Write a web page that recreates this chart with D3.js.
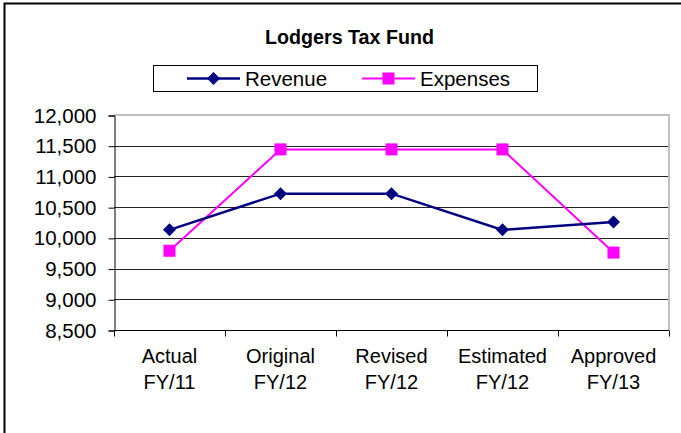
<!DOCTYPE html>
<html>
<head>
<meta charset="utf-8">
<script src="https://cdn.jsdelivr.net/npm/d3@7"></script>
<style>
  body { margin: 0; background: #fff; }
  svg { display: block; font-family: "Liberation Sans", Arial, sans-serif; }
</style>
</head>
<body>
<script>
// chart data
var categories = [['Actual', 'FY/11'], ['Original', 'FY/12'], ['Revised', 'FY/12'], ['Estimated', 'FY/12'], ['Approved', 'FY/13']];
var revenue = [10130, 10720, 10720, 10130, 10260];
var expenses = [9790, 11440, 11440, 11440, 9760];
var yTicks = [8500, 9000, 9500, 10000, 10500, 11000, 11500, 12000];

var W = 681, H = 433;
var plotLeft = 114, plotRight = 669, plotTop = 115, plotBottom = 330;

var svg = d3.select('body').append('svg')
  .attr('width', W)
  .attr('height', H);

svg.append('rect')
  .attr('width', W).attr('height', H)
  .attr('fill', 'white');

// outer frame
svg.append('rect')
  .attr('x', 4.5).attr('y', 3.5)
  .attr('width', W + 10).attr('height', H + 10)
  .attr('fill', 'none')
  .attr('stroke', '#000')
  .attr('stroke-width', 2);

var x = d3.scaleBand()
  .domain(d3.range(categories.length))
  .range([plotLeft, plotRight]);

var y = d3.scaleLinear()
  .domain([8500, 12000])
  .range([plotBottom, plotTop]);

// gridlines
svg.selectAll('line.grid')
  .data(yTicks.slice(1, -1))
  .enter().append('line')
  .attr('class', 'grid')
  .attr('x1', plotLeft).attr('x2', plotRight)
  .attr('y1', function(d) { return Math.round(y(d)) + 0.5; })
  .attr('y2', function(d) { return Math.round(y(d)) + 0.5; })
  .attr('stroke', '#222')
  .attr('stroke-width', 1);

// plot area border (top and right grey)
svg.append('path')
  .attr('d', 'M' + plotLeft + ',' + plotTop + 'H' + plotRight + 'V' + plotBottom)
  .attr('fill', 'none')
  .attr('stroke', '#c0c0c0')
  .attr('stroke-width', 2);

// y axis
var yAxis = d3.axisLeft(y)
  .tickValues(yTicks)
  .tickSize(6)
  .tickPadding(12)
  .tickFormat(d3.format(','));

var gy = svg.append('g')
  .attr('transform', 'translate(' + (plotLeft + 0.5) + ',0.5)')
  .call(yAxis);
gy.select('.domain').attr('stroke', '#000');
gy.selectAll('.tick line').attr('stroke', '#000');
gy.selectAll('.tick text')
  .attr('font-size', 20.5)
  .attr('font-family', '"Liberation Sans", Arial, sans-serif')
  .attr('fill', '#000');

// x axis
var gx = svg.append('g')
  .attr('transform', 'translate(0,' + (plotBottom + 0.5) + ')');
gx.append('line')
  .attr('x1', plotLeft).attr('x2', plotRight)
  .attr('stroke', '#000');
gx.selectAll('line.tick')
  .data(d3.range(categories.length + 1))
  .enter().append('line')
  .attr('class', 'tick')
  .attr('x1', function(i) { return Math.round(plotLeft + i * x.step()) + 0.5; })
  .attr('x2', function(i) { return Math.round(plotLeft + i * x.step()) + 0.5; })
  .attr('y1', 0).attr('y2', 6)
  .attr('stroke', '#000');

var labels = gx.selectAll('text')
  .data(categories)
  .enter().append('text')
  .attr('text-anchor', 'middle')
  .attr('font-size', 20)
  .attr('fill', '#000')
  .attr('x', function(d, i) { return x(i) + x.bandwidth() / 2; });
labels.append('tspan')
  .attr('x', function(d, i) { return x(i) + x.bandwidth() / 2; })
  .attr('y', 32)
  .text(function(d) { return d[0]; });
labels.append('tspan')
  .attr('x', function(d, i) { return x(i) + x.bandwidth() / 2; })
  .attr('y', 58)
  .text(function(d) { return d[1]; });

var cx = function(d, i) { return x(i) + x.bandwidth() / 2; };
var line = d3.line()
  .x(cx)
  .y(function(d) { return y(d); });

// expenses series
svg.append('path')
  .datum(expenses)
  .attr('d', line)
  .attr('fill', 'none')
  .attr('stroke', '#ff00ff')
  .attr('stroke-width', 2);

svg.selectAll('rect.exp')
  .data(expenses)
  .enter().append('rect')
  .attr('class', 'exp')
  .attr('x', function(d, i) { return cx(d, i) - 6; })
  .attr('y', function(d) { return y(d) - 6; })
  .attr('width', 12).attr('height', 12)
  .attr('fill', '#ff00ff');

// revenue series
svg.append('path')
  .datum(revenue)
  .attr('d', line)
  .attr('fill', 'none')
  .attr('stroke', '#000080')
  .attr('stroke-width', 2.5);

var diamond = 'M0,-6.5L6.5,0L0,6.5L-6.5,0Z';
svg.selectAll('path.rev')
  .data(revenue)
  .enter().append('path')
  .attr('class', 'rev')
  .attr('d', diamond)
  .attr('transform', function(d, i) { return 'translate(' + cx(d, i) + ',' + y(d) + ')'; })
  .attr('fill', '#000080');

// title (narrow look)
svg.append('text')
  .attr('x', 265).attr('y', 44)
  .attr('font-weight', 'bold')
  .attr('font-size', 21)
  .attr('textLength', 169)
  .attr('lengthAdjust', 'spacingAndGlyphs')
  .text('Lodgers Tax Fund');

// legend
var legend = svg.append('g');
legend.append('rect')
  .attr('x', 153.5).attr('y', 65.5)
  .attr('width', 384).attr('height', 26)
  .attr('fill', 'white')
  .attr('stroke', '#000');

var legendItems = [
  {name: 'Revenue', color: '#000080', shape: 'diamond', x: 187},
  {name: 'Expenses', color: '#ff00ff', shape: 'square', x: 362}
];

legendItems.forEach(function(it) {
  legend.append('line')
    .attr('x1', it.x).attr('x2', it.x + 53)
    .attr('y1', 78.5).attr('y2', 78.5)
    .attr('stroke', it.color)
    .attr('stroke-width', it.shape === 'diamond' ? 2.5 : 2);
  if (it.shape === 'diamond') {
    legend.append('path')
      .attr('d', diamond)
      .attr('transform', 'translate(' + (it.x + 26.5) + ',78.5)')
      .attr('fill', it.color);
  } else {
    legend.append('rect')
      .attr('x', it.x + 20.5).attr('y', 72.5)
      .attr('width', 12).attr('height', 12)
      .attr('fill', it.color);
  }
  legend.append('text')
    .attr('x', it.x + 58).attr('y', 85.5)
    .attr('font-size', 20.5)
    .text(it.name);
});
</script>
</body>
</html>
